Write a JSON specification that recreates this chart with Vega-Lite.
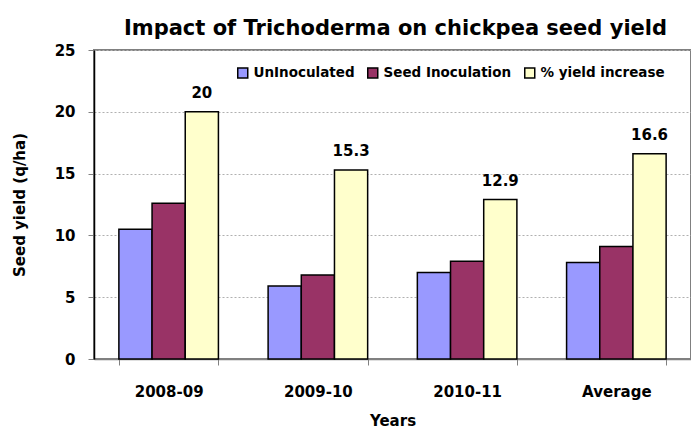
{
  "$schema": "https://vega.github.io/schema/vega-lite/v6.json",
  "width": 597,
  "height": 309,
  "autosize": {"type": "none"},
  "padding": {"left": 94, "top": 50, "right": 0, "bottom": 70},
  "background": "white",
  "config": {
    "font": "DejaVu Sans",
    "view": {"stroke": "#808080", "strokeWidth": 2}
  },
  "title": {
    "text": "Impact of Trichoderma on chickpea seed yield",
    "fontSize": 21,
    "fontWeight": "bold",
    "font": "DejaVu Sans",
    "color": "black",
    "anchor": "middle",
    "frame": "group",
    "offset": 4,
    "dx": 3
  },
  "data": {
    "values": [
      {"year": "2008-09", "series": "UnInoculated", "value": 10.5},
      {"year": "2008-09", "series": "Seed Inoculation", "value": 12.6},
      {"year": "2008-09", "series": "% yield increase", "value": 20},
      {"year": "2009-10", "series": "UnInoculated", "value": 5.9},
      {"year": "2009-10", "series": "Seed Inoculation", "value": 6.8},
      {"year": "2009-10", "series": "% yield increase", "value": 15.3},
      {"year": "2010-11", "series": "UnInoculated", "value": 7.0},
      {"year": "2010-11", "series": "Seed Inoculation", "value": 7.9},
      {"year": "2010-11", "series": "% yield increase", "value": 12.9},
      {"year": "Average", "series": "UnInoculated", "value": 7.8},
      {"year": "Average", "series": "Seed Inoculation", "value": 9.1},
      {"year": "Average", "series": "% yield increase", "value": 16.6}
    ]
  },
  "encoding": {
    "x": {
      "field": "year",
      "type": "nominal",
      "sort": ["2008-09", "2009-10", "2010-11", "Average"],
      "scale": {"paddingInner": 0.333, "paddingOuter": 0.1667},
      "axis": {
        "title": "Years",
        "titleFontSize": 15,
        "titleFontWeight": "bold",
        "titleColor": "black",
        "titlePadding": 14,
        "labelAngle": 0,
        "labelFontSize": 15,
        "labelFontWeight": "bold",
        "labelColor": "black",
        "labelPadding": 19,
        "domainColor": "#808080",
        "domainWidth": 1.5,
        "tickColor": "#808080",
        "tickSize": 6,
        "tickBand": "extent",
        "grid": false
      }
    },
    "xOffset": {
      "field": "series",
      "type": "nominal",
      "sort": ["UnInoculated", "Seed Inoculation", "% yield increase"]
    },
    "y": {
      "field": "value",
      "type": "quantitative",
      "scale": {"domain": [0, 25]},
      "axis": {
        "title": "Seed yield (q/ha)",
        "titleFontSize": 15,
        "titleFontWeight": "bold",
        "titleColor": "black",
        "titlePadding": 27,
        "values": [0, 5, 10, 15, 20, 25],
        "labelFontSize": 15,
        "labelFontWeight": "bold",
        "labelColor": "black",
        "labelPadding": 13,
        "domainColor": "black",
        "domainWidth": 1.5,
        "tickColor": "#808080",
        "tickSize": 6,
        "grid": true,
        "gridColor": "#b0b0b0",
        "gridDash": [2, 2],
        "gridWidth": 1
      }
    }
  },
  "layer": [
    {
      "mark": {"type": "bar", "stroke": "black", "strokeWidth": 1.5},
      "encoding": {
        "color": {
          "field": "series",
          "type": "nominal",
          "sort": ["UnInoculated", "Seed Inoculation", "% yield increase"],
          "scale": {
            "domain": ["UnInoculated", "Seed Inoculation", "% yield increase"],
            "range": ["#9999FF", "#993366", "#FFFFCC"]
          },
          "legend": {
            "title": null,
            "orient": "none",
            "legendX": 142,
            "legendY": 16,
            "direction": "horizontal",
            "symbolType": "square",
            "symbolSize": 100,
            "symbolStrokeColor": "black",
            "symbolStrokeWidth": 1.5,
            "labelFontSize": 13.5,
            "labelFontWeight": "bold",
            "labelColor": "black",
            "labelOffset": 4,
            "columnPadding": 9,
            "labelLimit": 300
          }
        }
      }
    },
    {
      "transform": [{"filter": "datum.series === '% yield increase'"}],
      "mark": {"type": "text", "fontWeight": "bold", "fontSize": 15, "dy": -14, "baseline": "alphabetic", "color": "black"},
      "encoding": {"text": {"field": "value", "type": "quantitative"}}
    }
  ]
}
